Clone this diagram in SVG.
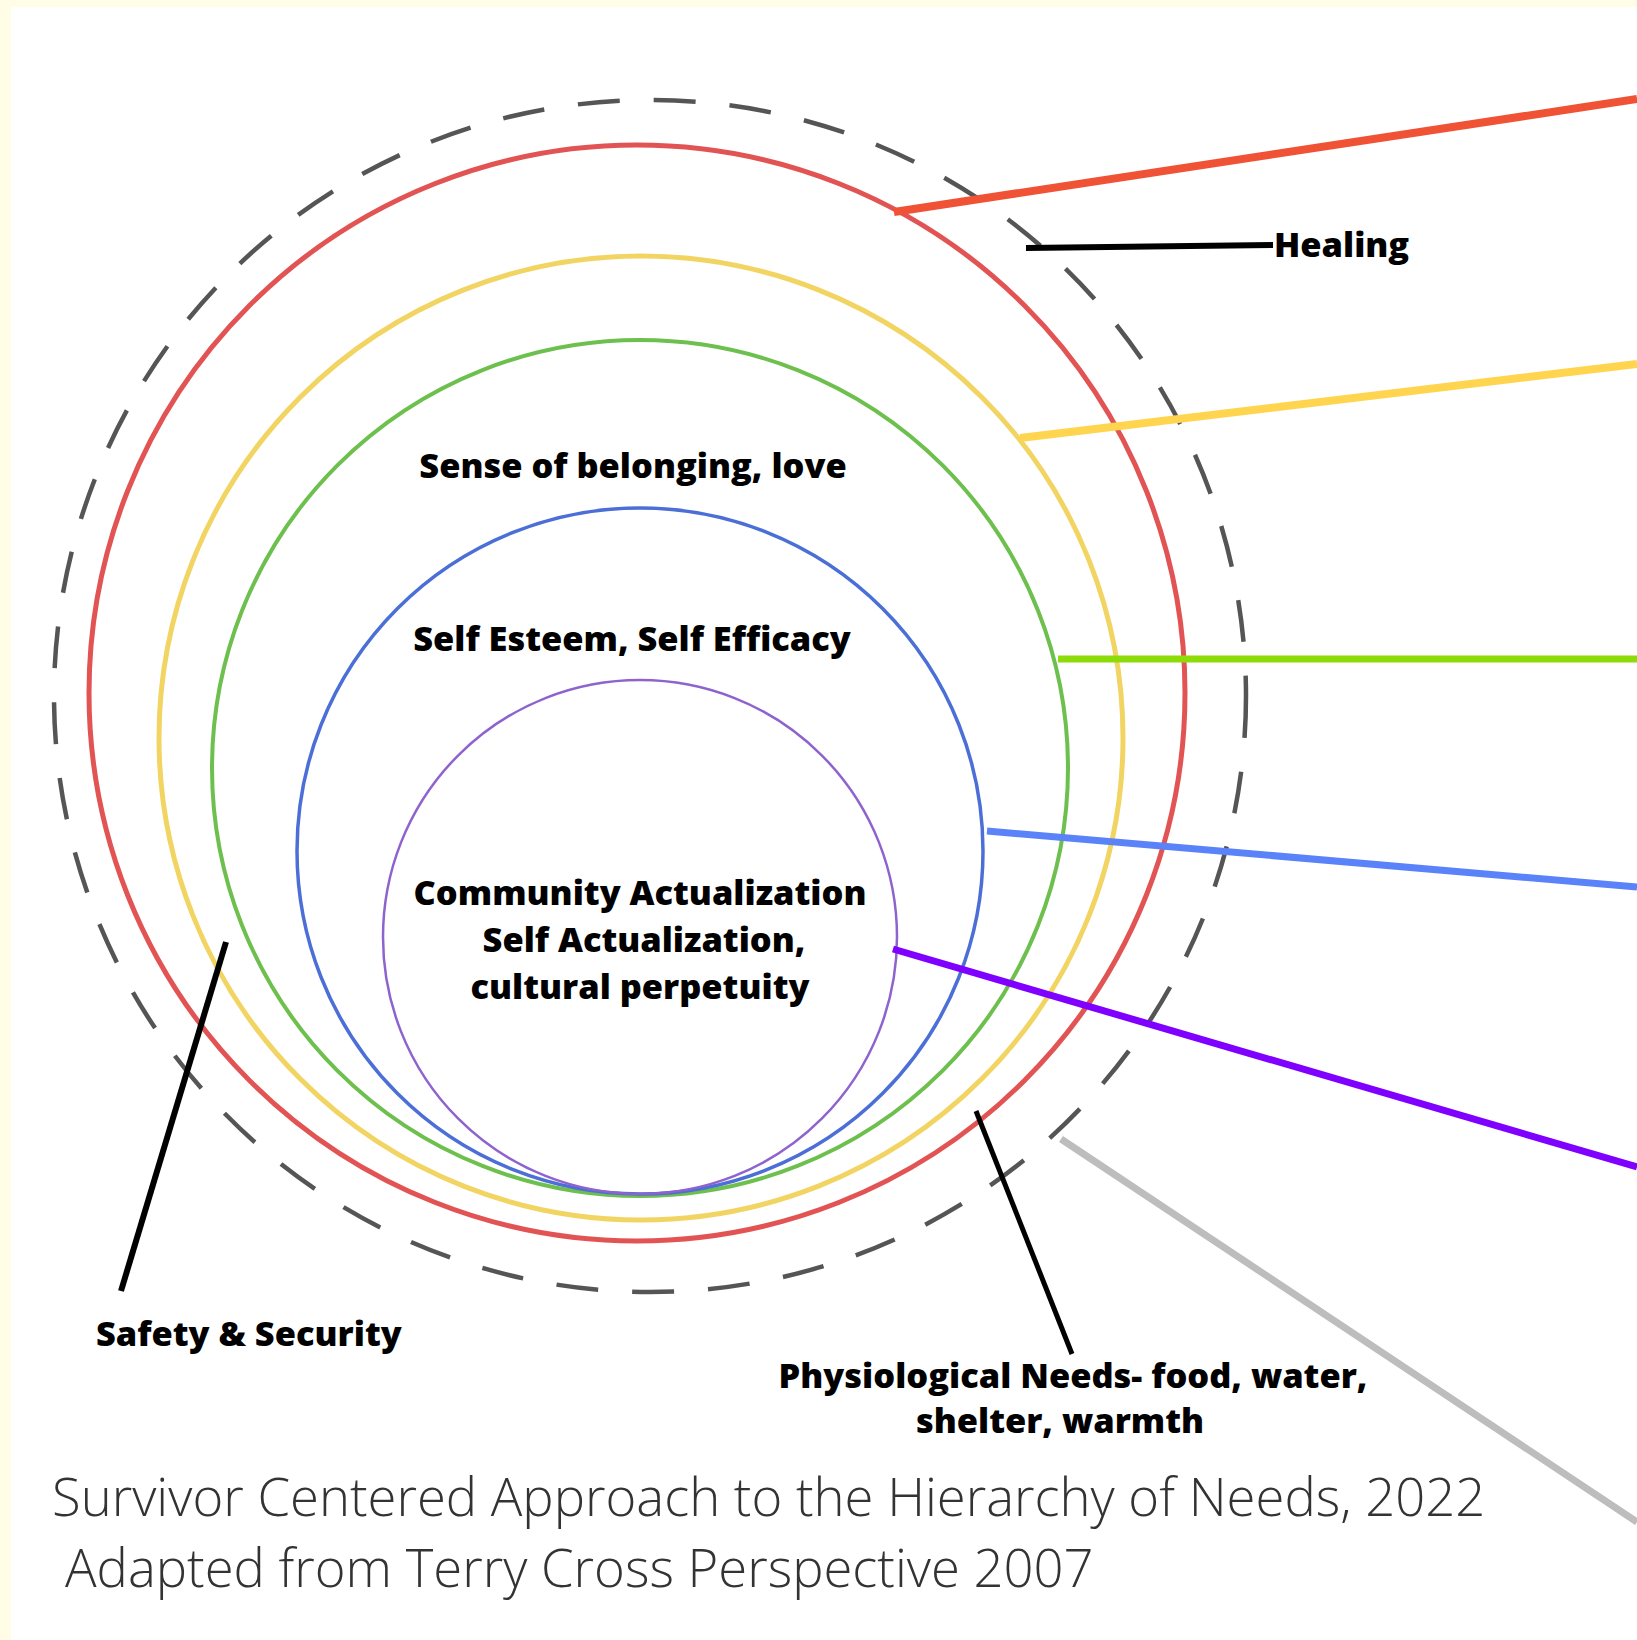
<svg xmlns="http://www.w3.org/2000/svg" width="1637" height="1640" viewBox="0 0 1637 1640">
<style>
.lbl{font-family:"Open Sans","Liberation Sans",sans-serif;font-weight:800;font-size:34.4px;fill:#000}
.foot{font-family:"Open Sans","Liberation Sans",sans-serif;font-weight:300;font-size:52.6px;fill:#333}
.ring{fill:none}
.conn{stroke-linecap:butt;fill:none}
</style>
<rect x="0" y="0" width="1637" height="1640" fill="#FFFDE6"/>
<rect x="11" y="7" width="1626" height="1633" fill="#FFFFFF"/>
<g id="rings">
<circle id="healing" class="ring" cx="650" cy="696" r="596" stroke="#555" stroke-width="4.5" stroke-dasharray="42 34"/>
<circle id="safety" class="ring" cx="637" cy="693" r="548" stroke="#E25454" stroke-width="5"/>
<circle id="physio" class="ring" cx="641" cy="738" r="482" stroke="#F2D463" stroke-width="5"/>
<circle id="belonging" class="ring" cx="640" cy="768" r="428" stroke="#6DC04E" stroke-width="4"/>
<circle id="esteem" class="ring" cx="640" cy="851" r="343" stroke="#4B6FD6" stroke-width="3.5"/>
<circle id="actualization" class="ring" cx="640" cy="937" r="257" stroke="#8E63CE" stroke-width="2.5"/>
</g>
<g id="connectors" class="conn">
<line x1="894" y1="212" x2="1637" y2="99" stroke="#F05236" stroke-width="8"/>
<line x1="1020" y1="438" x2="1637" y2="364" stroke="#FFD54F" stroke-width="8"/>
<line x1="1058" y1="659" x2="1637" y2="659" stroke="#8EDB0A" stroke-width="7"/>
<line x1="987" y1="831" x2="1637" y2="887" stroke="#5B83F9" stroke-width="7"/>
<line x1="893" y1="949" x2="1637" y2="1167" stroke="#7F00FF" stroke-width="7"/>
<line x1="1061" y1="1139" x2="1637" y2="1522" stroke="#BDBDBD" stroke-width="7"/>
<line x1="1026" y1="248" x2="1273" y2="245" stroke="#000" stroke-width="6"/>
<line x1="226" y1="942" x2="121" y2="1291" stroke="#000" stroke-width="6"/>
<line x1="976" y1="1111" x2="1072" y2="1354" stroke="#000" stroke-width="5"/>
</g>
<g id="labels">
<text class="lbl" x="1274" y="257" font-size="32.3">Healing</text>
<text class="lbl" x="633" y="478" text-anchor="middle">Sense of belonging, love</text>
<text class="lbl" x="632" y="651" text-anchor="middle">Self Esteem, Self Efficacy</text>
<text class="lbl" x="640" y="905" text-anchor="middle">Community Actualization</text>
<text class="lbl" x="644" y="952" text-anchor="middle">Self Actualization,</text>
<text class="lbl" x="640" y="999" text-anchor="middle">cultural perpetuity</text>
<text class="lbl" x="96" y="1346">Safety &amp; Security</text>
<text class="lbl" x="1073" y="1388" text-anchor="middle">Physiological Needs- food, water,</text>
<text class="lbl" x="1060" y="1433" text-anchor="middle">shelter, warmth</text>
</g>
<g id="caption">
<text class="foot" x="52" y="1516">Survivor Centered Approach to the Hierarchy of Needs, 2022</text>
<text class="foot" x="65" y="1587">Adapted from Terry Cross Perspective 2007</text>
</g>
</svg>
